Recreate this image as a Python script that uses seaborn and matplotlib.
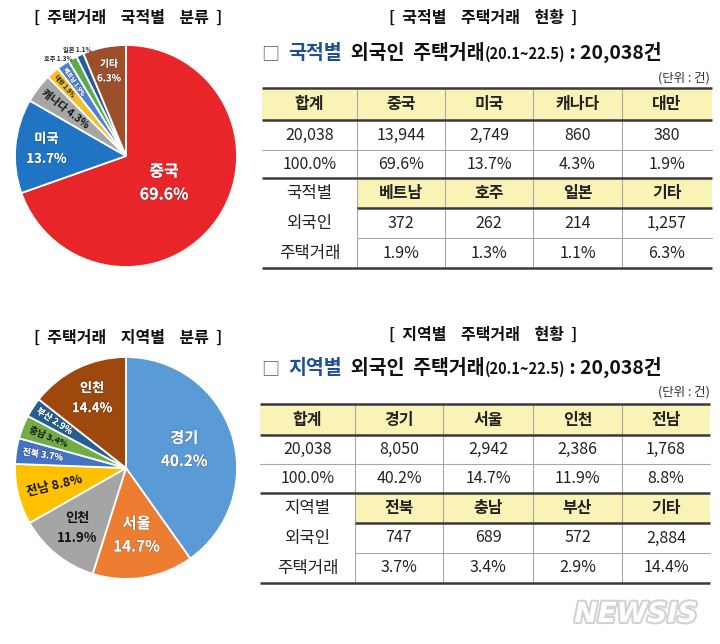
import numpy as np
import pandas as pd
import matplotlib
matplotlib.use('Agg')
import matplotlib.pyplot as plt
import matplotlib.patheffects as pe
from matplotlib.patches import Rectangle
import seaborn as sns

# ---------------- data ----------------
nat_names = ['중국', '미국', '캐나다', '대만', '베트남', '호주', '일본', '기타']
nat_counts = [13944, 2749, 860, 380, 372, 262, 214, 1257]
nat_pcts = [69.6, 13.7, 4.3, 1.9, 1.9, 1.3, 1.1, 6.3]

reg_names = ['경기', '서울', '인천', '전남', '전북', '충남', '부산', '기타']
reg_pie_names = ['경기', '서울', '인천', '전남', '전북', '충남', '부산', '인천']
reg_counts = [8050, 2942, 2386, 1768, 747, 689, 572, 2884]
reg_pcts = [40.2, 14.7, 11.9, 8.8, 3.7, 3.4, 2.9, 14.4]

period = '(20.1~22.5)'

# ---------------- style ----------------
sns.set_theme(style='white')
plt.rcParams['font.family'] = ['Noto Sans CJK KR', 'DejaVu Sans']

nat_colors = ['#E8262A', '#1F74C4', '#A6A6A6', '#F2BF2F', '#4A82D4', '#5DAA4A', '#235C98', '#9C4F2A']
reg_colors = ['#5B9BD5', '#ED7D31', '#A5A5A5', '#FFC000', '#4472C4', '#70AD47', '#255E91', '#9E480E']

nat_label_style = [
    dict(mode='two', r=0.42, color='white', size=11.5),
    dict(mode='two', r=0.72, color='white', size=9.5),
    dict(mode='radial', r=0.69, color='#111111', size=7.5),
    dict(mode='radial', r=0.84, color='#111111', size=4.3),
    dict(mode='radial', r=0.81, color='white', size=4.3),
    dict(mode='out', r=1.0, color='#222222', size=4.5, ha='right'),
    dict(mode='out', r=1.05, color='#222222', size=4.5, ha='center'),
    dict(mode='two', r=0.78, color='white', size=7),
]
reg_label_style = [
    dict(mode='two', r=0.55, color='white', size=11),
    dict(mode='two', r=0.61, color='white', size=11),
    dict(mode='two', r=0.70, color='#111111', size=9.5),
    dict(mode='radial', r=0.66, color='#111111', size=9),
    dict(mode='radial', r=0.76, color='white', size=6.5),
    dict(mode='radial', r=0.75, color='#111111', size=6.5),
    dict(mode='radial', r=0.77, color='white', size=6.5),
    dict(mode='two', r=0.70, color='white', size=9.5),
]

W, H = 720, 644
fig = plt.figure(figsize=(W / 100, H / 100), dpi=100)
fig.patch.set_facecolor('white')

bg = fig.add_axes([0, 0, 1, 1])
bg.set_xlim(0, W)
bg.set_ylim(H, 0)
bg.axis('off')


def pie_axes(cx, cy, r):
    return fig.add_axes([(cx - r) / W, (H - cy - r) / H, 2 * r / W, 2 * r / H])


def draw_pie(ax, counts, colors, names, pcts, styles):
    df = pd.DataFrame({'name': names, 'count': counts, 'pct': pcts})
    wedges, _ = ax.pie(df['count'], colors=colors, startangle=90, counterclock=False,
                       wedgeprops=dict(edgecolor='white', linewidth=1.3))
    ax.set_xlim(-1, 1)
    ax.set_ylim(-1, 1)
    ax.set_aspect('equal')
    for w, n, p, st in zip(wedges, df['name'], df['pct'], styles):
        mid = ((w.theta1 + w.theta2) / 2.0) % 360
        rad = np.deg2rad(mid)
        x, y = st['r'] * np.cos(rad), st['r'] * np.sin(rad)
        shadow = [pe.withStroke(linewidth=1.0, foreground='#00000030')] if st['color'] == 'white' else []
        if st['mode'] == 'two':
            ax.text(x, y, f'{n}\n{p:.1f}%', ha='center', va='center', color=st['color'],
                    fontsize=st['size'], fontweight='bold', linespacing=1.55, path_effects=shadow)
        elif st['mode'] == 'radial':
            rot = mid - 180 if 90 < mid < 270 else mid
            ax.text(x, y, f'{n} {p:.1f}%', ha='center', va='center', color=st['color'],
                    fontsize=st['size'], fontweight='bold', rotation=rot,
                    rotation_mode='anchor', path_effects=shadow)
        else:
            ax.text(x, y, f'{n} {p:.1f}%', ha=st.get('ha', 'center'), va='center',
                    color=st['color'], fontsize=st['size'], fontweight='bold')


def draw_table(ax, xs, ys, names, counts, pcts, side):
    yellow = '#F9F3B6'
    total = sum(counts)
    rows = [
        ['합계'] + names[:4],
        [f'{total:,}'] + [f'{c:,}' for c in counts[:4]],
        ['100.0%'] + [f'{p:.1f}%' for p in pcts[:4]],
        [''] + names[4:],
        [''] + [f'{c:,}' for c in counts[4:]],
        [''] + [f'{p:.1f}%' for p in pcts[4:]],
    ]
    ax.add_patch(Rectangle((xs[0], ys[0]), xs[-1] - xs[0], ys[1] - ys[0], facecolor=yellow, edgecolor='none'))
    ax.add_patch(Rectangle((xs[1], ys[3]), xs[-1] - xs[1], ys[4] - ys[3], facecolor=yellow, edgecolor='none'))
    thick = dict(color='#3a3a3a', linewidth=1.8, solid_capstyle='butt')
    thin = dict(color='#a8a8a8', linewidth=0.8)
    for x in xs[1:-1]:
        ax.plot([x, x], [ys[0], ys[-1]], **thin)
    ax.plot([xs[0], xs[-1]], [ys[0], ys[0]], **thick)
    ax.plot([xs[0], xs[-1]], [ys[1], ys[1]], **thick)
    ax.plot([xs[0], xs[-1]], [ys[2], ys[2]], **thin)
    ax.plot([xs[0], xs[-1]], [ys[3], ys[3]], **thick)
    ax.plot([xs[1], xs[-1]], [ys[4], ys[4]], **thick)
    ax.plot([xs[1], xs[-1]], [ys[5], ys[5]], **thin)
    ax.plot([xs[0], xs[-1]], [ys[6], ys[6]], **thick)
    for i, row in enumerate(rows):
        yc = (ys[i] + ys[i + 1]) / 2
        for j, txt in enumerate(row):
            if not txt:
                continue
            xc = (xs[j] + xs[j + 1]) / 2
            bold = i in (0, 3)
            ax.text(xc, yc, txt, ha='center', va='center', fontsize=11.5,
                    fontweight='bold' if bold else 'normal', color='#222222')
    for k, s in enumerate(side):
        yc = (ys[3 + k] + ys[4 + k]) / 2
        ax.text((xs[0] + xs[1]) / 2, yc, s, ha='center', va='center', fontsize=12, color='#222222')


def chain(ax, x, y, pieces, renderer):
    for txt, kw in pieces:
        t = ax.text(x, y, txt, ha='left', va='baseline', **kw)
        bb = t.get_window_extent(renderer)
        x = ax.transData.inverted().transform((bb.x1, bb.y0))[0]


renderer = fig.canvas.get_renderer()

# titles
title_kw = dict(ha='center', va='center', fontsize=11.5, fontweight='heavy', color='#111111')
bg.text(128, 18, '[  주택거래    국적별    분류  ]', **title_kw)
bg.text(483, 18, '[  국적별    주택거래    현황  ]', **title_kw)
bg.text(128, 338, '[  주택거래    지역별    분류  ]', **title_kw)
bg.text(483, 335, '[  지역별    주택거래    현황  ]', **title_kw)


def subtitle(y, word, counts):
    total = sum(counts)
    chain(bg, 262, y, [
        ('□  ', dict(fontsize=13, color='#555555')),
        (word, dict(fontsize=14, fontweight='bold', color='#1F4E9A')),
        ('  외국인  주택거래', dict(fontsize=14, fontweight='bold', color='#111111')),
        (period, dict(fontsize=10.5, fontweight='bold', color='#111111')),
        (f' : {total:,}건', dict(fontsize=14, fontweight='bold', color='#111111')),
    ], renderer)


subtitle(59, '국적별', nat_counts)
subtitle(374, '지역별', reg_counts)
bg.text(710, 78, '(단위 : 건)', ha='right', va='center', fontsize=9, color='#333333')
bg.text(710, 392, '(단위 : 건)', ha='right', va='center', fontsize=9, color='#333333')

# pies
ax1 = pie_axes(126, 156, 111)
draw_pie(ax1, nat_counts, nat_colors, nat_names, nat_pcts, nat_label_style)
ax2 = pie_axes(126, 468, 111)
draw_pie(ax2, reg_counts, reg_colors, reg_pie_names, reg_pcts, reg_label_style)

# tables
draw_table(bg, [262, 357, 445, 533, 622, 712], [88, 120, 150, 178, 208, 238, 268],
           nat_names, nat_counts, nat_pcts, ['국적별', '외국인', '주택거래'])
draw_table(bg, [260, 355, 443, 533, 622, 710], [404, 435, 464, 493, 523, 553, 583],
           reg_names, reg_counts, reg_pcts, ['지역별', '외국인', '주택거래'])

# watermark
bg.text(636, 614, 'NEWSIS', ha='center', va='center', fontsize=20, fontweight='bold',
        fontstyle='italic', family='DejaVu Sans', color='white',
        path_effects=[pe.withStroke(linewidth=3, foreground='#d2d2d2')])

fig.savefig('out.png', dpi=100, facecolor='white')
